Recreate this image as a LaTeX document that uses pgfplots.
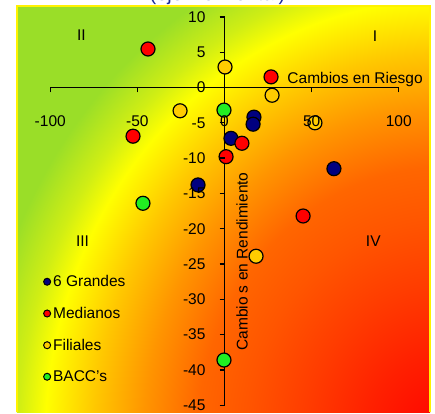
\documentclass[border=0pt]{standalone}
\usepackage{fontspec}
\setmainfont{Liberation Sans}
\usepackage{pgfplots}
\pgfplotsset{compat=1.18}
\definecolor{cR}{HTML}{FF0000}
\definecolor{cR2}{HTML}{FF2000}
\definecolor{cR3}{HTML}{FF3C00}
\definecolor{cO1}{HTML}{FF5500}
\definecolor{cO2}{HTML}{FF6600}
\definecolor{cO3}{HTML}{FF9500}
\definecolor{cO4}{HTML}{FFC800}
\definecolor{cY}{HTML}{FFFF00}
\definecolor{cYG}{HTML}{D0EE14}
\definecolor{cG}{HTML}{9ADE28}
\definecolor{navyblue}{HTML}{000080}
\definecolor{gold}{HTML}{FFCC00}
\definecolor{lgreen}{HTML}{22EE22}
\definecolor{titlenavy}{HTML}{1A2A9A}
\pgfdeclareradialshading{bgshade}{\pgfpoint{0bp}{0bp}}{color(0bp)=(cR); color(3.1bp)=(cR2); color(5.5bp)=(cR3); color(7.8bp)=(cO1); color(9.7bp)=(cO2); color(11.8bp)=(cO3); color(13.75bp)=(cO4); color(15.625bp)=(cY); color(16.7bp)=(cYG); color(18.3bp)=(cG); color(25bp)=(cG); color(50bp)=(cG)}
\newcommand\fs{\fontsize{15.5}{18}\selectfont}
\pgfplotsset{
  pt/.style={only marks, mark=*, mark size=7pt,
    mark options={draw=black, line width=1.2pt, fill=#1},
    legend image code/.code={\draw[black, line width=1pt, fill=#1] (0pt,0pt) circle (3.5pt);}}
}
\begin{document}
\begin{tikzpicture}
\begin{scope}[overlay]
\clip (0pt,0pt) rectangle (413pt,406pt);
\shade[shading=bgshade] (428pt,-28pt) ellipse [x radius=640pt, y radius=704pt];
\end{scope}
\draw[overlay, yellow, line width=1.5pt] (0pt,0pt) -- (0pt,406pt) -- (413pt,406pt) -- (413pt,0pt);
\node[overlay, font=\fontsize{20}{24}\selectfont, text=titlenavy, anchor=base] at (200.5pt,411pt) {(eje Horizontal)};
\begin{axis}[
  at={(0pt,0pt)}, anchor=south west,
  scale only axis, width=413pt, height=406pt,
  xmin=-119.08, xmax=117.93, ymin=-45.96, ymax=11.54,
  axis lines=middle, axis line style={draw=none},
  set layers=axis on top,
  hide obscured x ticks=false, hide obscured y ticks=false,
  xtick={-100,-50,0,50,100}, ytick={-45,-40,...,10},
  minor tick num=0,
  tick align=outside, major tick length=5pt,
  tick style={black, line width=1.3pt},
  /pgf/number format/assume math mode=true,
  xticklabel style={font=\fs, yshift=-20pt},
  yticklabel style={font=\fs, xshift=-10.5pt},
  clip=false,
  legend style={at={(axis cs:-104.2,-26.3)}, anchor=north west, draw=none, fill=none,
    font=\fs, row sep=15pt, inner sep=0pt},
  legend cell align=left,
]
\draw[black, line width=1.3pt] (axis cs:-100,0) -- (axis cs:100,0);
\draw[black, line width=1.3pt] (axis cs:0,10) -- (axis cs:0,-45);
\addplot[pt=navyblue] coordinates {(16.9,-4.2) (16.4,-5.2) (3.7,-7.2) (-15.2,-13.8) (62.8,-11.5)};
\addlegendentry{6 Grandes}
\addplot[pt=red] coordinates {(-43.9,5.45) (26.7,1.5) (-52.5,-6.9) (10.0,-7.9) (0.9,-9.8) (45.1,-18.2)};
\addlegendentry{Medianos}
\addplot[pt=gold] coordinates {(0.3,2.9) (27.3,-1.1) (-25.5,-3.3) (51.9,-5.0) (18.1,-23.9)};
\addlegendentry{Filiales}
\addplot[pt=lgreen] coordinates {(-0.3,-3.2) (-46.8,-16.4) (-0.3,-38.6)};
\addlegendentry{BACC's}
\node[font=\fs, anchor=base west] at (axis cs:34.1,0.6) {Cambios en Riesgo};
\node[font=\fs, anchor=base, rotate=90] at (axis cs:13.2,-24.65) {Cambio s en Rendimiento};
\node[font=\fs, anchor=base] at (axis cs:-82.1,6.62) {II};
\node[font=\fs, anchor=base] at (axis cs:86.4,6.5) {I};
\node[font=\fs, anchor=base] at (axis cs:-81.5,-22.5) {III};
\node[font=\fs, anchor=base] at (axis cs:85.4,-22.5) {IV};
\end{axis}
\path (-17pt,0pt) rectangle (418pt,412pt);
\end{tikzpicture}
\end{document}
